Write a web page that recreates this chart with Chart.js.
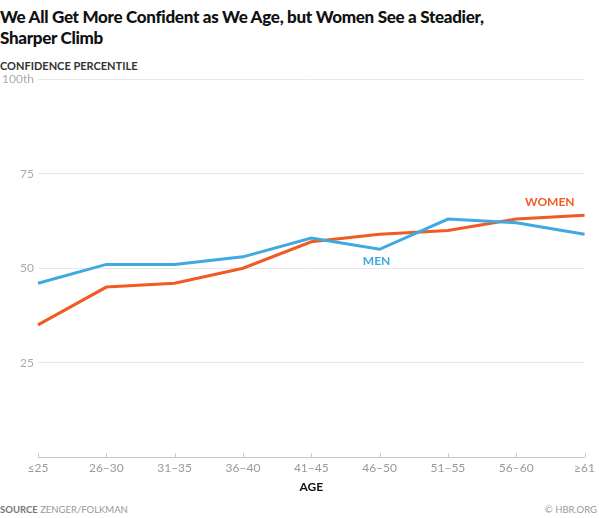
<!DOCTYPE html>
<html>
<head>
<meta charset="utf-8">
<script src="https://cdn.jsdelivr.net/npm/chart.js@4"></script>
<style>
  body { margin: 0; background: #fff; width: 599px; height: 518px; position: relative; overflow: hidden; font-family: Lato, "Open Sans", sans-serif; }
  #title { position: absolute; left: 0; top: 6px; font-size: 17px; font-weight: 900; line-height: 21px; color: #111; letter-spacing: -0.3px; }
  #sub { position: absolute; left: 0; top: 59px; font-size: 11px; font-weight: 700; color: #333; }
  #source { position: absolute; left: 0; top: 504px; font-size: 9.5px; color: #999; }
  #source b { color: #777; }
  #copy { position: absolute; right: 2px; top: 504px; font-size: 9.5px; color: #999; }
  #wrap { position: absolute; left: 0; top: 68px; width: 599px; height: 426px; }
</style>
</head>
<body>
<div id="title">We All Get More Confident as We Age, but Women See a Steadier,<br>Sharper Climb</div>
<div id="sub">CONFIDENCE PERCENTILE</div>
<div id="wrap"><canvas id="chart"></canvas></div>
<div id="source"><b>SOURCE</b> ZENGER/FOLKMAN</div>
<div id="copy">© HBR.ORG</div>
<script>
// dane
const AGES = ["≤25", "26–30", "31–35", "36–40", "41–45", "46–50", "51–55", "56–60", "≥61"];
const MEN = [46, 51, 51, 53, 58, 55, 63, 62, 59];
const WOMEN = [35, 45, 46, 50, 57, 59, 60, 63, 64];
const Y_TICKS = [0, 25, 50, 75, 100];

const BLUE = "#3fa9e1";
const ORANGE = "#f15a22";

// etykiety serii i znaczniki osi X skierowane do góry
const labelsPlugin = {
    id: "seriesLabels",
    afterDraw(chart) {
        const ctx = chart.ctx;
        const x = chart.scales.x, y = chart.scales.y;
        ctx.save();
        // znaczniki
        ctx.strokeStyle = "#c8c8c8";
        ctx.lineWidth = 1;
        ctx.beginPath();
        AGES.forEach((a, i) => {
            let px = Math.round(x.getPixelForValue(i)) + 0.5;
            ctx.moveTo(px, y.bottom - 4);
            ctx.lineTo(px, y.bottom);
        });
        ctx.stroke();
        ctx.font = "bold 12px Lato, 'Open Sans', sans-serif";
        ctx.textBaseline = "middle";
        ctx.fillStyle = ORANGE;
        ctx.textAlign = "right";
        ctx.fillText("WOMEN", x.getPixelForValue(8) - 10, y.getPixelForValue(67.5));
        ctx.fillStyle = BLUE;
        ctx.textAlign = "center";
        ctx.fillText("MEN", x.getPixelForValue(5) - 3, y.getPixelForValue(51.8));
        ctx.restore();
    }
};

new Chart(document.getElementById("chart").getContext("2d"), {
    type: "line",
    data: {
        labels: AGES,
        datasets: [{
            label: "Men",
            data: MEN,
            borderColor: BLUE,
            borderWidth: 3,
            pointRadius: 0,
            tension: 0,
            fill: false
        }, {
            label: "Women",
            data: WOMEN,
            borderColor: ORANGE,
            borderWidth: 3,
            pointRadius: 0,
            tension: 0,
            fill: false
        }]
    },
    options: {
        responsive: true,
        maintainAspectRatio: false,
        animation: false,
        layout: { padding: { top: 4, right: 11, bottom: 0, left: 0 } },
        plugins: { legend: { display: false }, tooltip: { enabled: false } },
        scales: {
            x: {
                offset: false,
                grid: { display: false, drawTicks: false, tickLength: 0 },
                border: { display: true, color: "#c8c8c8", width: 1 },
                ticks: { color: "#999", font: { size: 12, family: "Lato, 'Open Sans', sans-serif" }, padding: 4, maxRotation: 0, autoSkip: false },
                title: { display: true, text: "AGE", color: "#111", font: { size: 12, weight: "bold", family: "Lato, 'Open Sans', sans-serif" }, padding: { top: 0, bottom: 0 } }
            },
            y: {
                min: 0,
                max: 100,
                afterFit(scale) { scale.width = 38; },
                afterBuildTicks(scale) { scale.ticks = Y_TICKS.map(v => ({ value: v })); },
                grid: { color: "#e8e8e8", lineWidth: 1, drawTicks: false },
                border: { display: false },
                ticks: {
                    color: "#aaa",
                    padding: 4,
                    font: { size: 12, family: "Lato, 'Open Sans', sans-serif" },
                    callback: v => v === 0 ? "" : (v === 100 ? "100th" : v)
                }
            }
        }
    },
    plugins: [labelsPlugin]
});
</script>
</body>
</html>
